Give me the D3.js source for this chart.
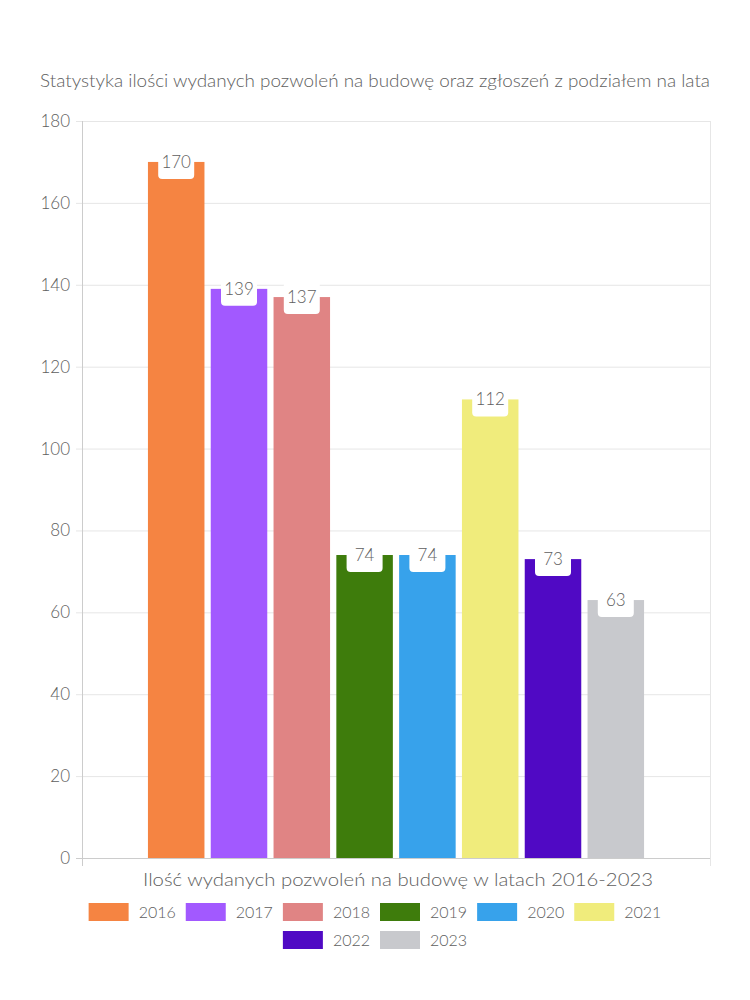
<!DOCTYPE html>
<html><head><meta charset="utf-8">
<script src="https://cdn.jsdelivr.net/npm/d3@7"></script>
<style>body{margin:0;background:#fff}svg{display:block}text{font-family:Lato,"Noto Sans",sans-serif;fill:#5e5e5e;font-weight:300}</style>
</head><body>
<svg id="c" width="750" height="1000"></svg>
<script>
const years = ["2016","2017","2018","2019","2020","2021","2022","2023"];
const values = [170,139,137,74,74,112,73,63];
const colors = ["#F58442","#A259FF","#E08484","#3E7C0C","#37A2EB","#F0EC7C","#5009C4","#C8C9CD"];
const yTicks = [0,20,40,60,80,100,120,140,160,180];
const titleText = "Statystyka ilości wydanych pozwoleń na budowę oraz zgłoszeń z podziałem na lata";
const xTitle = "Ilość wydanych pozwoleń na budowę w latach 2016-2023";

const svg = d3.select("#c");
const m = {l:82, r:710, t:121, b:858};
const y = d3.scaleLinear().domain([0,180]).range([m.b, m.t]);
const plotW = m.r - m.l;
const x = d3.scaleBand().domain(years).range([m.l + plotW*0.1, m.r - plotW*0.1]).paddingInner(0).paddingOuter(0);

// title
svg.append("text").attr("x",375).attr("y",87).attr("text-anchor","middle").attr("font-size",17)
  .attr("textLength",670).attr("lengthAdjust","spacingAndGlyphs").text(titleText);

// grid
svg.append("g").selectAll("line").data(yTicks).join("line")
  .attr("x1",m.l-6).attr("x2",m.r).attr("y1",d=>y(d)+0.5).attr("y2",d=>y(d)+0.5)
  .attr("stroke",d=>d===0?"#ccc":"#e6e6e6");
svg.append("line").attr("x1",m.l+0.5).attr("x2",m.l+0.5).attr("y1",m.t).attr("y2",m.b+8).attr("stroke","#ccc");
svg.append("line").attr("x1",m.r+0.5).attr("x2",m.r+0.5).attr("y1",m.t).attr("y2",m.b+8).attr("stroke","#e6e6e6");

// y axis labels
const ya = d3.axisLeft(y).tickValues(yTicks).tickSize(0).tickPadding(12);
const gy = svg.append("g").attr("transform",`translate(${m.l},0)`).call(ya);
gy.select(".domain").remove();
gy.selectAll("text").attr("font-size",17).attr("fill","#5e5e5e").style("font-family","Lato,'Noto Sans',sans-serif").style("font-weight",300);

// bars
const bw = x.bandwidth()*0.9;
svg.append("g").selectAll("rect").data(years).join("rect")
  .attr("x",(d)=>x(d)+(x.bandwidth()-bw)/2).attr("width",bw)
  .attr("y",(d,i)=>y(values[i])).attr("height",(d,i)=>m.b-y(values[i]))
  .attr("fill",(d,i)=>colors[i]);

// labels
const lg = svg.append("g").selectAll("g").data(years).join("g")
  .attr("transform",(d,i)=>`translate(${x(d)+x.bandwidth()/2},${y(values[i])})`);
lg.append("rect").attr("x",-18).attr("y",-16).attr("width",36).attr("height",33).attr("rx",4).attr("fill","#fff");
lg.append("text").attr("text-anchor","middle").attr("y",6).attr("font-size",17).text((d,i)=>values[i]);

// x title
svg.append("text").attr("x",(m.l+m.r)/2+2).attr("y",886).attr("text-anchor","middle").attr("font-size",18)
  .attr("textLength",510).attr("lengthAdjust","spacingAndGlyphs").text(xTitle);

// legend
const legend = svg.append("g");
const fs = 16, boxW = 40, boxH = 18;
const items = years.map((yr,i)=>{
  const t = legend.append("text").attr("font-size",fs).text(yr);
  const w = t.node().getComputedTextLength();
  return {yr,i,t,w:boxW+10+w+10};
});
const rowsY = [912, 940];
let rows=[[]], cur=0, maxW=640;
items.forEach(it=>{ if(cur+it.w>maxW && rows[rows.length-1].length){rows.push([]);cur=0;} rows[rows.length-1].push(it); cur+=it.w; });
rows.forEach((row,ri)=>{
  const tot = d3.sum(row,d=>d.w)-10;
  let px = 375 - tot/2;
  row.forEach(it=>{
    legend.append("rect").attr("x",px).attr("y",rowsY[ri]-9).attr("width",boxW).attr("height",boxH).attr("fill",colors[it.i]);
    it.t.attr("x",px+boxW+10).attr("y",rowsY[ri]+6);
    px += it.w;
  });
});
</script>
</body></html>
